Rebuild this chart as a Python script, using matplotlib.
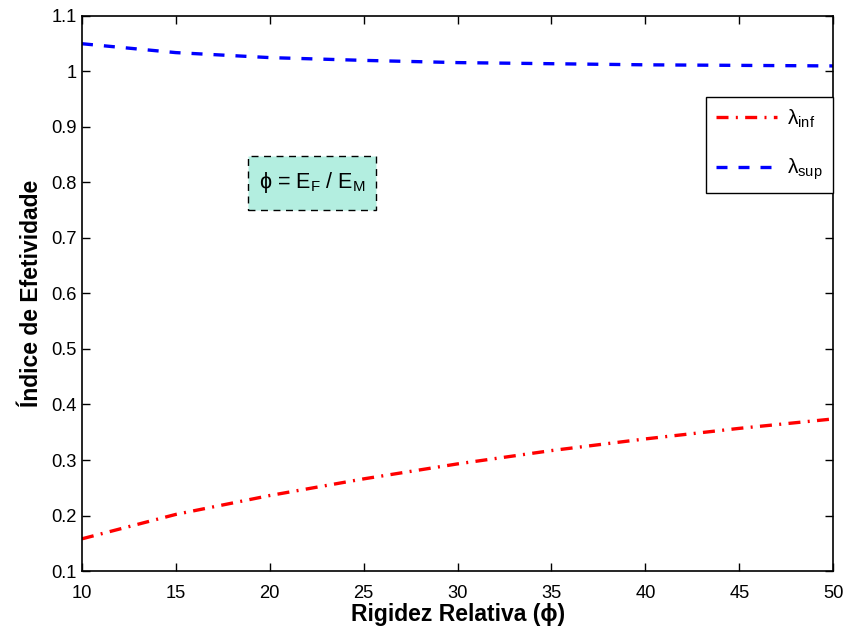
import matplotlib
matplotlib.use("Agg")
import matplotlib.pyplot as plt
from matplotlib.patches import Rectangle

plt.rcParams['font.family'] = ['Liberation Sans', 'DejaVu Sans']
plt.rcParams['mathtext.fontset'] = 'custom'
plt.rcParams['mathtext.rm'] = 'Liberation Sans'
plt.rcParams['mathtext.it'] = 'Liberation Sans'
plt.rcParams['mathtext.default'] = 'regular'

# data
phi = [10, 15, 20, 25, 30, 35, 40, 45, 50]
lambda_inf = [0.158, 0.202, 0.236, 0.266, 0.293, 0.317, 0.338, 0.357, 0.374]
lambda_sup = [1.050, 1.034, 1.025, 1.020, 1.016, 1.014, 1.012, 1.011, 1.010]

xticks = [10, 15, 20, 25, 30, 35, 40, 45, 50]
yticks = [0.1, 0.2, 0.3, 0.4, 0.5, 0.6, 0.7, 0.8, 0.9, 1.0, 1.1]
ytick_labels = ['0.1', '0.2', '0.3', '0.4', '0.5', '0.6', '0.7', '0.8', '0.9', '1', '1.1']

fig = plt.figure(figsize=(8.45, 6.29), dpi=100)
ax = fig.add_axes([0.097, 0.0922, 0.889, 0.8824])

ax.plot(phi, lambda_inf, color='red', lw=2.4, dashes=(3.6, 2.2, 0.6, 2.2),
        label=r'$\lambda_{inf}$')
ax.plot(phi, lambda_sup, color='blue', lw=2.4, dashes=(3.3, 3.3),
        label=r'$\lambda_{sup}$')

ax.set_xlim(10, 50)
ax.set_ylim(0.1, 1.1)
ax.set_xticks(xticks)
ax.set_xticklabels([str(t) for t in xticks])
ax.set_yticks(yticks)
ax.set_yticklabels(ytick_labels)
ax.tick_params(direction='in', length=6, width=1, labelsize=13.2,
               top=True, right=True)
ax.tick_params(axis='x', pad=10)
ax.tick_params(axis='y', pad=3.5)
for s in ax.spines.values():
    s.set_linewidth(1.2)

ax.set_xlabel('Rigidez Relativa (ϕ)', fontsize=16.5, fontweight='bold', labelpad=1)
ax.set_ylabel('Índice de Efetividade', fontsize=16.5, fontweight='bold', labelpad=6)

# annotation box
box = Rectangle((0.221, 0.650), 0.170, 0.097, transform=ax.transAxes,
                facecolor='#b3eee0', edgecolor='black', linestyle=(0, (5, 4)),
                linewidth=1)
ax.add_patch(box)
ax.text(0.221 + 0.085, 0.650 + 0.05, r'ϕ = E$_F$ / E$_M$', transform=ax.transAxes,
        ha='center', va='center', fontsize=15.5)

leg = ax.legend(loc='upper right', bbox_to_anchor=(833 / 845, (629 - 97) / 629),
                bbox_transform=fig.transFigure, borderaxespad=0, fontsize=15,
                handlelength=2.9, handletextpad=0.5, labelspacing=1.3,
                borderpad=0.5, fancybox=False, framealpha=1, edgecolor='black')
leg.get_frame().set_linewidth(1)

fig.savefig('out.png', dpi=100)
